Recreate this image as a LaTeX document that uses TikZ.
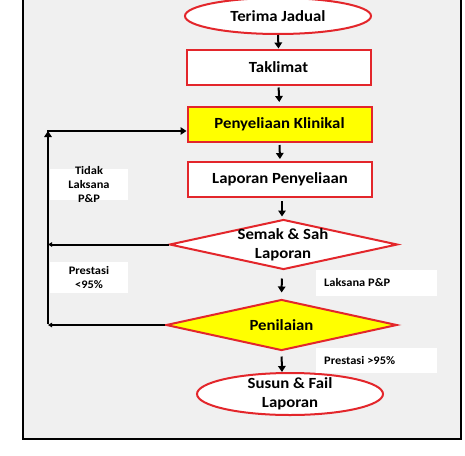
\documentclass[tikz,border=0pt]{standalone}
\usepackage{fontspec}
\setmainfont{Carlito}[FakeStretch=1.08]
\usetikzlibrary{shapes.geometric,arrows.meta}
\definecolor{bgray}{HTML}{F0F0F0}
\definecolor{bred}{HTML}{E3262B}
\definecolor{byellow}{HTML}{FFFF00}
\tikzset{
  big/.style={font=\bfseries\fontsize{15.5}{18.7}\selectfont, align=center, inner sep=0pt},
  small/.style={font=\bfseries\fontsize{11.5}{13.7}\selectfont, inner sep=0pt},
  boxr/.style={draw=bred, line width=2pt, fill=white, minimum width=184pt, minimum height=35pt, inner sep=0pt},
  elli/.style={ellipse, draw=bred, line width=2pt, fill=white, inner sep=0pt},
  dia/.style={diamond, draw=bred, line width=2pt, inner sep=0pt, minimum width=228pt, minimum height=50pt},
  lblbox/.style={fill=white, inner sep=0pt},
  arr/.style={line width=2pt, -{Triangle[length=6pt,width=7.5pt]}},
  arrs/.style={line width=2pt, -{Triangle[length=4pt,width=4.5pt]}},
}
\begin{document}
\begin{tikzpicture}[x=1pt,y=-1pt]
\useasboundingbox (0,0) rectangle (465,455);
\fill[white] (0,0) rectangle (465,455);
\draw[line width=2pt, fill=bgray] (23,-10) rectangle (461,439);

% shapes
\node[elli, minimum width=186pt, minimum height=36pt] (jadual) at (278,16) {};
\node[big] (tjadual) at (jadual) {Terima Jadual};
\node[boxr] (taklimat) at (278.5,67) {};
\node[big] at (taklimat) {Taklimat};
\node[boxr, fill=byellow] (klinikal) at (279.5,124.5) {};
\node[big] at (klinikal) {Penyeliaan Klinikal};
\node[boxr] (laporan) at (280,179.5) {};
\node[big] at (laporan) {Laporan Penyeliaan};
\node[dia, fill=white] (semak) at (283.5,244.5) {};
\node[big] (tsemak) at (283,245) {Semak \& Sah\\Laporan};
\node[dia, fill=byellow, minimum width=231pt, minimum height=51pt] (penilaian) at (281.5,325) {};
\node[big] at (penilaian) {Penilaian};
\node[elli, minimum width=186pt, minimum height=42pt] (susun) at (290,394) {};
\node[big] (tsusun) at (290,393.5) {Susun \& Fail\\Laporan};

% label boxes
\node[lblbox, minimum width=78pt, minimum height=31pt] (lb1) at (89,184.5) {};
\node[small, align=center] at (lb1) {Tidak\\Laksana\\P\&P};
\node[lblbox, minimum width=78pt, minimum height=31pt] (lb2) at (89,277.5) {};
\node[small, align=center] at (lb2) {Prestasi\\<95\%};
\node[lblbox, minimum width=121pt, minimum height=26pt] (lb3) at (376.5,283) {};
\node[small, anchor=west] at (324,283) {Laksana P\&P};
\node[lblbox, minimum width=121pt, minimum height=25pt] (lb4) at (376.5,360.5) {};
\node[small, anchor=west] at (324,361) {Prestasi >95\%};

% main flow arrows
\draw[arr] (jadual.south) -- (taklimat.north);
\draw[arr, shorten <=2pt, shorten >=4pt] (taklimat.south) -- (klinikal.north);
\draw[arr, shorten <=2pt, shorten >=2pt] (klinikal.south) -- (laporan.north);
\draw[arr, shorten <=3pt, shorten >=2pt] ([xshift=2pt]laporan.south) -- ([xshift=-1.5pt]semak.north);
\draw[arr, shorten <=8pt, shorten >=6pt] ([xshift=-1.5pt]semak.south) -- (penilaian.north);
\draw[arr, shorten <=5pt] (penilaian.south) -- ([xshift=-8pt]susun.north);

% loop back
\coordinate (lp) at (48,325);
\coordinate (lt) at (48,131);
\draw[arrs] (semak.west) -- (semak.west -| lp);
\draw[arrs] (penilaian.west) -- (lp);
\draw[arr] ([yshift=1pt]lp) -- (lt);
\draw[arr] ([xshift=-1pt]lt) -- (klinikal.west |- lt);
\end{tikzpicture}
\end{document}
